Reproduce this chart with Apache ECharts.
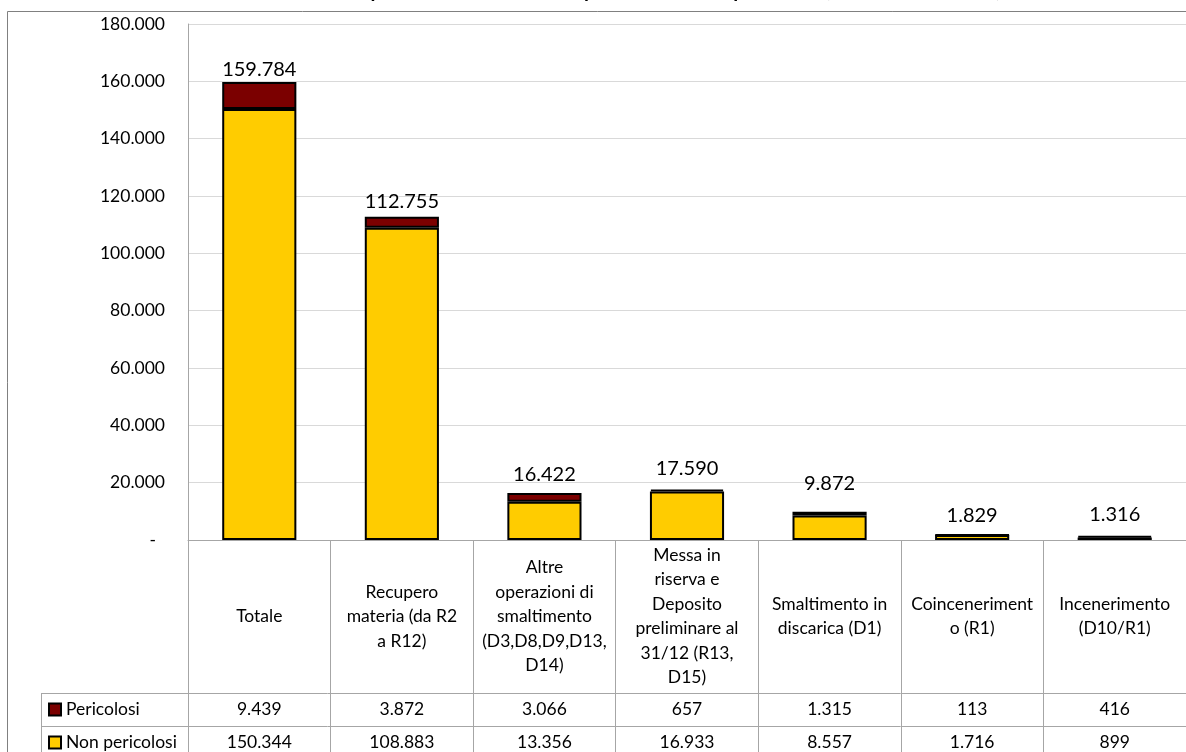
<!DOCTYPE html>
<html>
<head>
<meta charset="utf-8">
<script src="https://cdn.jsdelivr.net/npm/echarts@6/dist/echarts.min.js"></script>
<style>
html,body{margin:0;padding:0;background:#fff;}
#chart{width:1186px;height:752px;}
</style>
</head>
<body>
<div id="chart"></div>
<script>
// ---- data ----
const titleText = "Rifiuti speciali trattati nell'anno per modalità di operazione (valori in tonnellate), 2021";
const categories = [
  'Totale',
  'Recupero\nmateria (da R2\na R12)',
  'Altre\noperazioni di\nsmaltimento\n(D3,D8,D9,D13,\nD14)',
  'Messa in\nriserva e\nDeposito\npreliminare al\n31/12 (R13,\nD15)',
  'Smaltimento in\ndiscarica (D1)',
  'Coinceneriment\no (R1)',
  'Incenerimento\n(D10/R1)'
];
const seriesNames = ['Pericolosi', 'Non pericolosi'];
const pericolosi = [9439, 3872, 3066, 657, 1315, 113, 416];
const nonPericolosi = [150344, 108883, 13356, 16933, 8557, 1716, 899];
const totali = [159784, 112755, 16422, 17590, 9872, 1829, 1316];
const yMin = 0, yMax = 180000, yStep = 20000;

// ---- layout / style ----
const FONT = 'Lato';
const GL = 188, GT = 24, GW = 1008, GH = 516;
const GB = GT + GH;           // 540
const ROW1 = 153, ROW = 33;
const LINE = '#a6a6a6';
const RED = '#7b0000', YEL = '#ffcc00';
// small per-label vertical nudges (px) to mimic the hand-placed labels of the original
const labelNudge = [6, 3, 0, -3, -10, 0, -3];

function fmt(v) {
  return String(Math.round(v)).replace(/\B(?=(\d{3})+(?!\d))/g, '.');
}

const chart = echarts.init(document.getElementById('chart'), null, {renderer: 'canvas'});

const legendText = {fontFamily: FONT, fontSize: 17.5, color: '#000', lineHeight: 20};

const option = {
  animation: false,
  backgroundColor: '#fff',
  textStyle: {fontFamily: FONT, color: '#000'},
  grid: {left: GL, top: GT, width: GW, height: GH, containLabel: false},
  legend: [
    {
      data: [{name: seriesNames[0], icon: 'rect'}], orient: 'vertical', left: 48, top: GB + ROW1 + ROW / 2 - 10,
      padding: 0, itemWidth: 12, itemHeight: 12, itemGap: 0, selectedMode: false, textStyle: legendText
    },
    {
      data: [{name: seriesNames[1], icon: 'rect'}], orient: 'vertical', left: 48, top: GB + ROW1 + ROW + ROW / 2 - 10,
      padding: 0, itemWidth: 12, itemHeight: 12, itemGap: 0, selectedMode: false, textStyle: legendText
    }
  ],
  xAxis: [
    {
      type: 'category', data: categories, boundaryGap: true,
      axisLine: {show: true, lineStyle: {color: LINE, width: 1}},
      axisTick: {show: true, length: ROW1 + 2 * ROW + 10, lineStyle: {color: LINE, width: 1}},
      axisLabel: {interval: 0, fontFamily: FONT, fontSize: 17.5, color: '#000', lineHeight: 24.5,
        align: 'center', verticalAlign: 'middle', margin: ROW1 / 2},
      splitLine: {show: false}
    },
    {
      type: 'category', data: pericolosi.map(fmt), position: 'bottom', offset: ROW1,
      axisLine: {show: false}, axisTick: {show: false},
      axisLabel: {interval: 0, fontFamily: FONT, fontSize: 17.5, color: '#000', verticalAlign: 'middle', margin: ROW / 2}
    },
    {
      type: 'category', data: nonPericolosi.map(fmt), position: 'bottom', offset: ROW1 + ROW,
      axisLine: {show: false}, axisTick: {show: false},
      axisLabel: {interval: 0, fontFamily: FONT, fontSize: 17.5, color: '#000', verticalAlign: 'middle', margin: ROW / 2}
    }
  ],
  yAxis: {
    type: 'value', min: yMin, max: yMax, interval: yStep,
    axisLine: {show: true, lineStyle: {color: LINE, width: 1}},
    axisTick: {show: false},
    axisLabel: {fontFamily: FONT, fontSize: 17.5, color: '#000', margin: 23,
      formatter: v => v === 0 ? '-  ' : fmt(v)},
    splitLine: {show: true, lineStyle: {color: '#d9d9d9', width: 1}}
  },
  series: [
    {
      name: seriesNames[1], type: 'bar', stack: 'tot', data: nonPericolosi, barWidth: '52%',
      itemStyle: {color: YEL, borderColor: '#000', borderWidth: 2}
    },
    {
      name: seriesNames[0], type: 'bar', stack: 'tot', barWidth: '52%',
      data: pericolosi.map((v, i) => ({
        value: v,
        label: {offset: [0, labelNudge[i]]}
      })),
      itemStyle: {color: RED, borderColor: '#000', borderWidth: 2},
      label: {show: true, position: 'top', distance: 8, fontFamily: FONT, fontSize: 20, color: '#000',
        formatter: p => fmt(totali[p.dataIndex])}
    }
  ],
  graphic: [
    {type: 'rect', silent: true, shape: {x: 7.5, y: 11.5, width: 1300, height: 900},
      style: {fill: 'none', stroke: '#808080', lineWidth: 1}, z: 100},
    {type: 'text', silent: true, x: 680, y: 1,
      style: {text: titleText, font: 'bold 20px ' + FONT, fill: '#000', align: 'center', verticalAlign: 'bottom'}},
    {type: 'line', silent: true, shape: {x1: 41, y1: GB + ROW1 + 0.5, x2: GL + GW, y2: GB + ROW1 + 0.5},
      style: {stroke: LINE, lineWidth: 1}},
    {type: 'line', silent: true, shape: {x1: 41, y1: GB + ROW1 + ROW + 0.5, x2: GL + GW, y2: GB + ROW1 + ROW + 0.5},
      style: {stroke: LINE, lineWidth: 1}},
    {type: 'line', silent: true, shape: {x1: 41, y1: GB + ROW1 + 2 * ROW + 0.5, x2: GL + GW, y2: GB + ROW1 + 2 * ROW + 0.5},
      style: {stroke: LINE, lineWidth: 1}},
    {type: 'line', silent: true, shape: {x1: 41.5, y1: GB + ROW1, x2: 41.5, y2: GB + ROW1 + 2 * ROW + 10},
      style: {stroke: LINE, lineWidth: 1}}
  ]
};
chart.setOption(option);
</script>
</body>
</html>
